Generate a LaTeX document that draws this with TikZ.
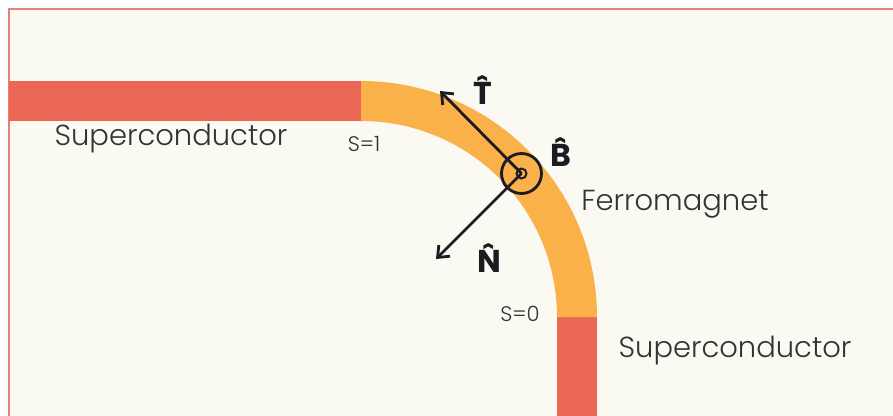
\documentclass[tikz,border=0pt]{standalone}
\usepackage{fontspec}
\setmainfont{Poppins}
\newfontfamily\thinfont{Poppins Light}
\usepackage{xcolor}
\usetikzlibrary{arrows.meta}
\definecolor{cream}{HTML}{FAF9F2}
\definecolor{scred}{HTML}{EC6656}
\definecolor{fmorange}{HTML}{FBB149}
\definecolor{ink}{HTML}{1C1B22}
\definecolor{txtgray}{HTML}{333333}
\definecolor{framered}{HTML}{E58373}
\newcommand\hatvec[1]{\accent"02C6 #1}

\begin{document}
\begin{tikzpicture}[x=0.02cm,y=-0.02cm,
  vec/.style={ink,line width=1.6pt,-{Straight Barb[length=5.5pt,width=9pt,line width=1.6pt]}},
  veclbl/.style={font=\fontsize{18}{20}\selectfont\bfseries,ink},
  matlbl/.style={font=\thinfont\fontsize{16.5}{18}\selectfont,txtgray},
  poslbl/.style={font=\thinfont\fontsize{12}{14}\selectfont,txtgray}]
\useasboundingbox (0,0) rectangle (893,416);
\clip (0,0) rectangle (893,416);
\fill[cream,draw=framered,line width=0.7pt] (9,9) rectangle (910,430);
% superconductor leads
\fill[scred] (9,81) rectangle (361,121);
\fill[scred] (557,317) rectangle (597,430);
% ferromagnet, quarter ring about (361,317)
\fill[fmorange] (361,317) ++(-90:236) arc[start angle=-90,end angle=0,radius=236]
  -- ++(-40,0) arc[start angle=0,end angle=-90,radius=196] -- cycle;
% frame vectors
\node[circle,draw=ink,line width=1.6pt,minimum size=0.8cm,inner sep=0pt] (B) at (521.5,173.5) {};
\node[circle,draw=ink,line width=1.1pt,minimum size=0.2cm,inner sep=0pt] (Bdot) at (B.center) {};
\coordinate (Ttip) at (440,91);
\coordinate (Ntip) at (436,259);
\draw[vec] (B.center) -- (Ttip);
\draw[vec] (B.center) -- (Ntip);
\node[veclbl] (Tlbl) at (483,90) {\hatvec{T}};
\node[veclbl] (Blbl) at (561,152) {\hatvec{B}};
\node[veclbl] (Nlbl) at (489,258) {\hatvec{N}};
% texts
\node[matlbl] (scleft) at (171,139) {Superconductor};
\node[matlbl] (scright) at (735,351) {Superconductor};
\node[matlbl] (fm) at (675,204) {Ferromagnet};
\node[poslbl] (s1) at (364,144) {S=1};
\node[poslbl] (s0) at (520,314) {S=0};
\end{tikzpicture}
\end{document}
